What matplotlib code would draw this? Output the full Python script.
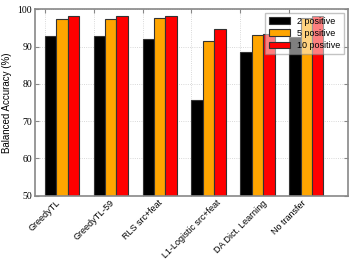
import matplotlib
matplotlib.use("Agg")
import matplotlib.pyplot as plt
import numpy as np

methods = ["GreedyTL", "GreedyTL-59", "RLS src+feat", "L1-Logistic src+feat",
           "DA Dict. Learning", "No transfer"]
pos2 = [92.95, 93.0, 92.1, 75.8, 88.5, 92.5]
pos5 = [97.3, 97.3, 97.6, 91.6, 93.1, 97.8]
pos10 = [98.3, 98.2, 98.3, 94.8, 93.5, 98.3]

plt.rcParams['font.family'] = ['Liberation Sans', 'DejaVu Sans']

fig = plt.figure(figsize=(3.52, 2.62), dpi=100)
ax = fig.add_axes([0.0994, 0.253, 0.889, 0.711])

ind = np.arange(len(methods))
w = 0.7 / 3
edge = "#333333"
ax.bar(ind, pos2, w, align="edge", color="black", edgecolor=edge, lw=0.8, label="2 positive")
ax.bar(ind + w, pos5, w, align="edge", color="orange", edgecolor=edge, lw=0.8, label="5 positive")
ax.bar(ind + 2 * w, pos10, w, align="edge", color="red", edgecolor=edge, lw=0.8, label="10 positive")

ax.set_xlim(-0.2, 6.2)
ax.set_ylim(50, 100)
ax.set_xticks(ind)
ax.set_xticklabels(methods, rotation=45, fontsize=6.5)
ax.set_yticks([50, 60, 70, 80, 90, 100])
for t in ax.get_yticklabels():
    t.set_family("Liberation Serif")
    t.set_fontsize(7)
ax.set_ylabel("Balanced Accuracy (%)", fontsize=7)
ax.grid(True, linestyle=":", color="#cccccc", lw=0.6)
ax.set_axisbelow(True)
ax.tick_params(direction="in", top=True, right=True, length=3, color="#888888", pad=2)
for s in ax.spines.values():
    s.set_color("#888888")
    s.set_linewidth(1.2)

leg = ax.legend(loc="upper right", fontsize=6.5, framealpha=0.5, fancybox=False,
                handlelength=2.4, borderaxespad=0.4, labelspacing=0.35)
leg.get_frame().set_edgecolor("#888888")

fig.savefig("out.png", dpi=100)
